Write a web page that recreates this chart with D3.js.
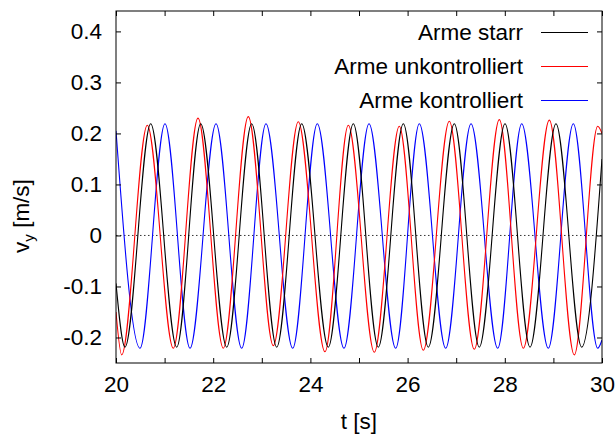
<!DOCTYPE html>
<html><head><meta charset="utf-8">
<script src="https://cdn.jsdelivr.net/npm/d3@7/dist/d3.min.js"></script>
<style>body{margin:0;background:#fff}svg{display:block}</style>
</head><body><svg id="c" width="615" height="434"></svg>
<script>
// ---- data ----
const xTicks = [20,21,22,23,24,25,26,27,28,29,30];
const xTickLabels = {20:"20",22:"22",24:"24",26:"26",28:"28",30:"30"};
const yTicks = [-0.2,-0.1,0,0.1,0.2,0.3,0.4];
const yTickLabels = ["-0.2","-0.1","0","0.1","0.2","0.3","0.4"];
const seriesNames = ["Arme starr","Arme unkontrolliert","Arme kontrolliert"];
const seriesColors = ["#000000","#ff0000","#0000ff"];

const starrT = [20,20.185,20.714,21.249,21.743,22.278,22.792,23.307,23.821,24.368,24.883,25.397,25.912,26.426,26.961,27.475,28.004,28.519,29.053,29.582,30];
const starrV = [-0.094,-0.219,0.219,-0.219,0.219,-0.219,0.219,-0.219,0.219,-0.219,0.219,-0.219,0.219,-0.219,0.219,-0.219,0.219,-0.219,0.219,-0.219,0.15];

const unkT = [20,20.117,20.644,21.179,21.687,22.208,22.722,23.237,23.751,24.300,24.780,25.315,25.829,26.323,26.858,27.372,27.887,28.381,28.916,29.430,29.912,30];
const unkV = [-0.15,-0.234,0.216,-0.221,0.230,-0.221,0.233,-0.216,0.223,-0.228,0.216,-0.229,0.214,-0.225,0.224,-0.223,0.227,-0.221,0.226,-0.234,0.214,0.2];

const konT = [20,20.494,21.008,21.523,22.058,22.586,23.086,23.636,24.142,24.691,25.206,25.755,26.241,26.784,27.305,27.854,28.348,28.895,29.410,29.912,30];
const konV = [0.205,-0.221,0.219,-0.221,0.219,-0.221,0.219,-0.221,0.219,-0.221,0.219,-0.221,0.219,-0.221,0.219,-0.221,0.219,-0.221,0.219,-0.221,-0.205];

// ---- layout ----
const FONT = "'Liberation Sans', Arial, Helvetica, sans-serif";
const FS = 22.5;
const L = 116, R = 602, T = 11, B = 363;
const svg = d3.select("#c");
const x = d3.scaleLinear().domain([20,30]).range([L,R]);
const y = d3.scaleLinear().domain([-0.25,0.44]).range([B,T]);

svg.append("defs").append("clipPath").attr("id","clip")
  .append("rect").attr("x",L).attr("y",T).attr("width",R-L).attr("height",B-T);

// zero line
svg.append("line").attr("x1",L).attr("x2",R).attr("y1",y(0)).attr("y2",y(0))
  .attr("stroke","#000").attr("stroke-width",0.8).attr("stroke-dasharray","1.5,2.5");

// series
const series = [
  {t:starrT, v:starrV},
  {t:unkT, v:unkV},
  {t:konT, v:konV}
];
const line = d3.line().x(d=>x(d[0])).y(d=>y(d[1])).curve(d3.curveMonotoneX);
const g = svg.append("g").attr("clip-path","url(#clip)");
[2,1,0].forEach(i=>{
  const s = series[i];
  g.append("path").datum(s.t.map((t,k)=>[t,s.v[k]]))
    .attr("d",line).attr("fill","none").attr("stroke",seriesColors[i]).attr("stroke-width",1.1);
});

// axes with inward ticks
const TK = 5;
function style(sel){
  sel.select(".domain").remove();
  sel.selectAll(".tick line").attr("stroke","#000").attr("stroke-width",1);
  sel.selectAll("text").attr("font-family",FONT).attr("font-size",FS).attr("fill","#000");
}
svg.append("g").attr("transform",`translate(0,${B})`)
  .call(d3.axisBottom(x).tickValues(xTicks).tickSize(-TK).tickPadding(13)
    .tickFormat(d=>xTickLabels[d]||""))
  .call(style).selectAll("text").attr("dy","0.71em");
svg.append("g").attr("transform",`translate(0,${T})`)
  .call(d3.axisTop(x).tickValues(xTicks).tickSize(-TK).tickFormat(""))
  .call(style);
svg.append("g").attr("transform",`translate(${L},0)`)
  .call(d3.axisLeft(y).tickValues(yTicks).tickSize(-TK).tickPadding(14)
    .tickFormat((d,i)=>yTickLabels[i]))
  .call(style);
svg.append("g").attr("transform",`translate(${R},0)`)
  .call(d3.axisRight(y).tickValues(yTicks).tickSize(-TK).tickFormat(""))
  .call(style);

// border
svg.append("rect").attr("x",L).attr("y",T).attr("width",R-L).attr("height",B-T)
  .attr("fill","none").attr("stroke","#000").attr("stroke-width",1);

// legend
const legY = [32.5,66.5,100.5];
seriesNames.forEach((n,i)=>{
  svg.append("text").attr("x",523).attr("y",legY[i]).attr("dy","0.35em")
    .attr("text-anchor","end").attr("font-family",FONT).attr("font-size",FS).text(n);
  svg.append("line").attr("x1",541).attr("x2",588).attr("y1",legY[i]).attr("y2",legY[i])
    .attr("stroke",seriesColors[i]).attr("stroke-width",1.1);
});

// axis labels
svg.append("text").attr("x",(L+R)/2).attr("y",429).attr("text-anchor","middle")
  .attr("font-family",FONT).attr("font-size",FS).text("t [s]");
const yl = svg.append("text").attr("transform","translate(29,216) rotate(-90)")
  .attr("text-anchor","middle").attr("font-family",FONT).attr("font-size",FS);
yl.append("tspan").text("v");
yl.append("tspan").attr("font-size",15).attr("dy",5).text("y");
yl.append("tspan").attr("dy",-5).text(" [m/s]");
</script></body></html>
